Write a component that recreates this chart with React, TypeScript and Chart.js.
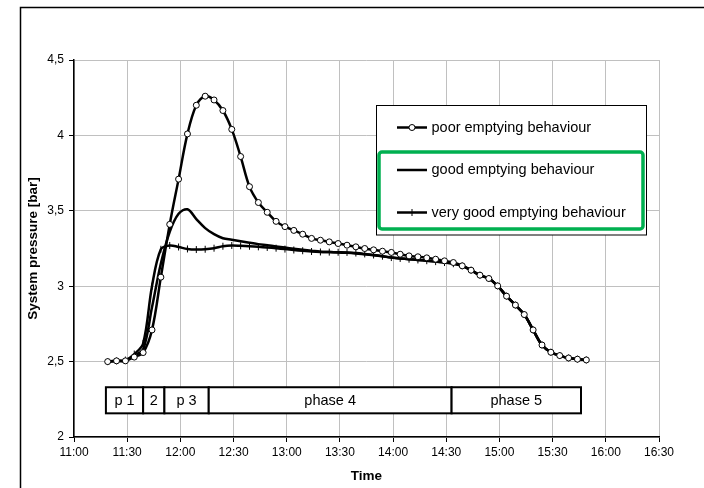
import React, { useEffect, useRef } from 'react';
import { Chart, registerables } from 'chart.js';

Chart.register(...registerables);

// ---------- data ----------
const times = [
  '11:19', '11:24', '11:29', '11:34', '11:39', '11:44', '11:49', '11:54', '11:59', '12:04',
  '12:09', '12:14', '12:19', '12:24', '12:29', '12:34', '12:39', '12:44', '12:49', '12:54',
  '12:59', '13:04', '13:09', '13:14', '13:19', '13:24', '13:29', '13:34', '13:39', '13:44',
  '13:49', '13:54', '13:59', '14:04', '14:09', '14:14', '14:19', '14:24', '14:29', '14:34',
  '14:39', '14:44', '14:49', '14:54', '14:59', '15:04', '15:09', '15:14', '15:19', '15:24',
  '15:29', '15:34', '15:39', '15:44', '15:49',
];

const poorValues = [
  2.50, 2.505, 2.505, 2.53, 2.56, 2.71, 3.06, 3.41, 3.71, 4.01,
  4.20, 4.26, 4.235, 4.165, 4.04, 3.86, 3.66, 3.555, 3.49, 3.43,
  3.395, 3.37, 3.345, 3.317, 3.305, 3.294, 3.283, 3.272, 3.261, 3.25,
  3.241, 3.232, 3.224, 3.212, 3.201, 3.195, 3.188, 3.179, 3.168, 3.157,
  3.135, 3.106, 3.073, 3.051, 3.002, 2.934, 2.875, 2.812, 2.71, 2.61,
  2.562, 2.54, 2.524, 2.516, 2.511,
];

const goodValues = [
  2.50, 2.505, 2.505, 2.54, 2.58, 2.86, 3.15, 3.36, 3.48, 3.51,
  3.445, 3.385, 3.345, 3.318, 3.308, 3.298, 3.288, 3.279, 3.272, 3.264,
  3.256, 3.248, 3.241, 3.235, 3.229, 3.226, 3.223, 3.221, 3.217, 3.211,
  3.205, 3.198, 3.19, 3.184, 3.179, 3.174, 3.169, 3.164, 3.158, 3.15,
  3.135, 3.106, 3.073, 3.051, 3.002, 2.934, 2.875, 2.812, 2.71, 2.61,
  2.562, 2.54, 2.524, 2.516, 2.511,
];

const veryGoodValues = [
  2.50, 2.505, 2.51, 2.55, 2.62, 3.0, 3.245, 3.27, 3.26, 3.247,
  3.243, 3.245, 3.252, 3.265, 3.27, 3.268, 3.265, 3.261, 3.257, 3.252,
  3.246, 3.24, 3.235, 3.23, 3.227, 3.226, 3.225, 3.224, 3.22, 3.214,
  3.207, 3.199, 3.19, 3.184, 3.179, 3.174, 3.169, 3.163, 3.157, 3.149,
  3.135, 3.106, 3.073, 3.051, 3.002, 2.934, 2.875, 2.812, 2.71, 2.61,
  2.562, 2.54, 2.524, 2.516, 2.511,
];

const seriesLabels = [
  'poor emptying behaviour',
  'good emptying behaviour',
  'very good emptying behaviour',
];

const xTickLabels = [
  '11:00', '11:30', '12:00', '12:30', '13:00', '13:30',
  '14:00', '14:30', '15:00', '15:30', '16:00', '16:30',
];
const yTickLabels = ['2', '2,5', '3', '3,5', '4', '4,5'];

const phaseLabels = ['p 1', '2', 'p 3', 'phase 4', 'phase 5'];
const phaseBounds = ['11:18', '11:39', '11:51', '12:16', '14:33', '15:46'];
const phaseBand = [2.157, 2.33];

// ---------- helpers ----------
const FONT = '"Liberation Sans", Arial, sans-serif';
const toMin = (t: string) => {
  const [h, m] = t.split(':').map(Number);
  return (h - 11) * 60 + m;
};
const toPoints = (vals: number[]) => times.map((t, i) => ({ x: toMin(t), y: vals[i] }));

const framePlugin = {
  id: 'outerFrame',
  beforeDraw(chart: any) {
    const ctx = chart.ctx;
    ctx.save();
    ctx.fillStyle = '#fff';
    ctx.fillRect(0, 0, chart.width, chart.height);
    ctx.strokeStyle = '#000';
    ctx.lineWidth = 1.5;
    ctx.beginPath();
    ctx.moveTo(20.5, chart.height + 2);
    ctx.lineTo(20.5, 7.5);
    ctx.lineTo(chart.width + 2, 7.5);
    ctx.stroke();
    ctx.restore();
  },
};

const phasePlugin = {
  id: 'phaseBoxes',
  afterDatasetsDraw(chart: any) {
    const { ctx, scales } = chart;
    const xs = scales.x;
    const ys = scales.y;
    const yTop = ys.getPixelForValue(phaseBand[1]);
    const yBot = ys.getPixelForValue(phaseBand[0]);
    ctx.save();
    for (let i = 0; i < phaseLabels.length; i++) {
      const x0 = xs.getPixelForValue(toMin(phaseBounds[i]));
      const x1 = xs.getPixelForValue(toMin(phaseBounds[i + 1]));
      ctx.fillStyle = '#fff';
      ctx.fillRect(x0, yTop, x1 - x0, yBot - yTop);
      ctx.strokeStyle = '#000';
      ctx.lineWidth = 2;
      ctx.strokeRect(x0, yTop, x1 - x0, yBot - yTop);
      ctx.fillStyle = '#000';
      ctx.font = `14.5px ${FONT}`;
      ctx.textAlign = 'center';
      ctx.textBaseline = 'middle';
      ctx.fillText(phaseLabels[i], (x0 + x1) / 2, (yTop + yBot) / 2 + 1);
    }
    ctx.restore();
  },
};

const legendPlugin = {
  id: 'boxLegend',
  afterDraw(chart: any) {
    const ctx = chart.ctx;
    ctx.save();
    const bx = 376.5, by = 105.5, bw = 270, bh = 129.5;
    ctx.fillStyle = '#fff';
    ctx.fillRect(bx, by, bw, bh);
    ctx.strokeStyle = '#000';
    ctx.lineWidth = 1;
    ctx.strokeRect(bx, by, bw, bh);
    // green highlight frame
    ctx.strokeStyle = '#00b050';
    ctx.lineWidth = 3.5;
    ctx.beginPath();
    (ctx as any).roundRect(379, 152, 264, 77, 3);
    ctx.stroke();

    const rowsY = [127.5, 170, 212.5];
    chart.data.datasets.forEach((ds: any, i: number) => {
      const y = rowsY[i];
      ctx.strokeStyle = '#000';
      ctx.lineWidth = 2.5;
      ctx.beginPath();
      ctx.moveTo(397, y);
      ctx.lineTo(427, y);
      ctx.stroke();
      const mx = 412;
      if (ds.pointStyle === 'circle') {
        ctx.beginPath();
        ctx.arc(mx, y, 3, 0, Math.PI * 2);
        ctx.fillStyle = '#fff';
        ctx.fill();
        ctx.lineWidth = 1;
        ctx.stroke();
      } else if (ds.pointStyle === 'line' && ds.pointRadius > 0) {
        ctx.lineWidth = 1;
        ctx.beginPath();
        ctx.moveTo(mx, y - 3.5);
        ctx.lineTo(mx, y + 3.5);
        ctx.stroke();
      }
      ctx.fillStyle = '#000';
      ctx.font = `14.5px ${FONT}`;
      ctx.textAlign = 'left';
      ctx.textBaseline = 'middle';
      ctx.fillText(ds.label, 431.5, y);
    });
    ctx.restore();
  },
};

export default function App() {
  const canvasRef = useRef<HTMLCanvasElement | null>(null);

  useEffect(() => {
    if (!canvasRef.current) return;
    const chart = new Chart(canvasRef.current, {
      type: 'line',
      data: {
        datasets: [
          {
            label: seriesLabels[0],
            data: toPoints(poorValues),
            borderColor: '#000',
            borderWidth: 2.5,
            pointStyle: 'circle',
            pointRadius: 3,
            pointBackgroundColor: '#fff',
            pointBorderColor: '#000',
            pointBorderWidth: 1,
            tension: 0.35,
          },
          {
            label: seriesLabels[1],
            data: toPoints(goodValues),
            borderColor: '#000',
            borderWidth: 2.5,
            pointRadius: 0,
            tension: 0.35,
          },
          {
            label: seriesLabels[2],
            data: toPoints(veryGoodValues),
            borderColor: '#000',
            borderWidth: 2.5,
            pointStyle: 'line',
            pointRotation: 90,
            pointRadius: 3.5,
            pointBorderColor: '#000',
            pointBorderWidth: 1,
            tension: 0.35,
          },
        ],
      } as any,
      options: {
        responsive: false,
        animation: false,
        events: [],
        layout: { padding: { top: 60, right: 45, left: 0, bottom: 0 } },
        plugins: {
          legend: { display: false },
          tooltip: { enabled: false },
        },
        scales: {
          x: {
            type: 'linear',
            min: 0,
            max: 330,
            grid: { color: '#c0c0c0', lineWidth: 1, tickLength: 5, tickColor: '#000' },
            border: { color: '#000', width: 1.5 },
            ticks: {
              stepSize: 30,
              autoSkip: false,
              maxRotation: 0,
              padding: 3,
              color: '#000',
              font: { family: FONT, size: 12 },
              callback: (v: any) => xTickLabels[Math.round(Number(v) / 30)],
            },
            title: {
              display: true,
              text: 'Time',
              color: '#000',
              font: { family: FONT, size: 13.5, weight: 'bold' },
              padding: { top: 0, bottom: 4 },
            },
            afterFit: (s: any) => {
              s.height = 51;
            },
          },
          y: {
            type: 'linear',
            min: 2,
            max: 4.5,
            grid: { color: '#c0c0c0', lineWidth: 1, tickLength: 5, tickColor: '#000' },
            border: { color: '#000', width: 1.5 },
            ticks: {
              stepSize: 0.5,
              padding: 5,
              color: '#000',
              font: { family: FONT, size: 12 },
              callback: (_v: any, i: number) => yTickLabels[i],
            },
            title: {
              display: true,
              text: 'System pressure [bar]',
              color: '#000',
              font: { family: FONT, size: 13.5, weight: 'bold' },
              padding: { top: 25, bottom: 0 },
            },
            afterFit: (s: any) => {
              s.width = 74;
            },
          },
        },
      } as any,
      plugins: [framePlugin, phasePlugin, legendPlugin],
    });
    return () => chart.destroy();
  }, []);

  return (
    <div style={{ position: 'absolute', left: 0, top: 0, width: 704, height: 488 }}>
      <canvas ref={canvasRef} width={704} height={488} style={{ width: 704, height: 488 }} />
    </div>
  );
}
